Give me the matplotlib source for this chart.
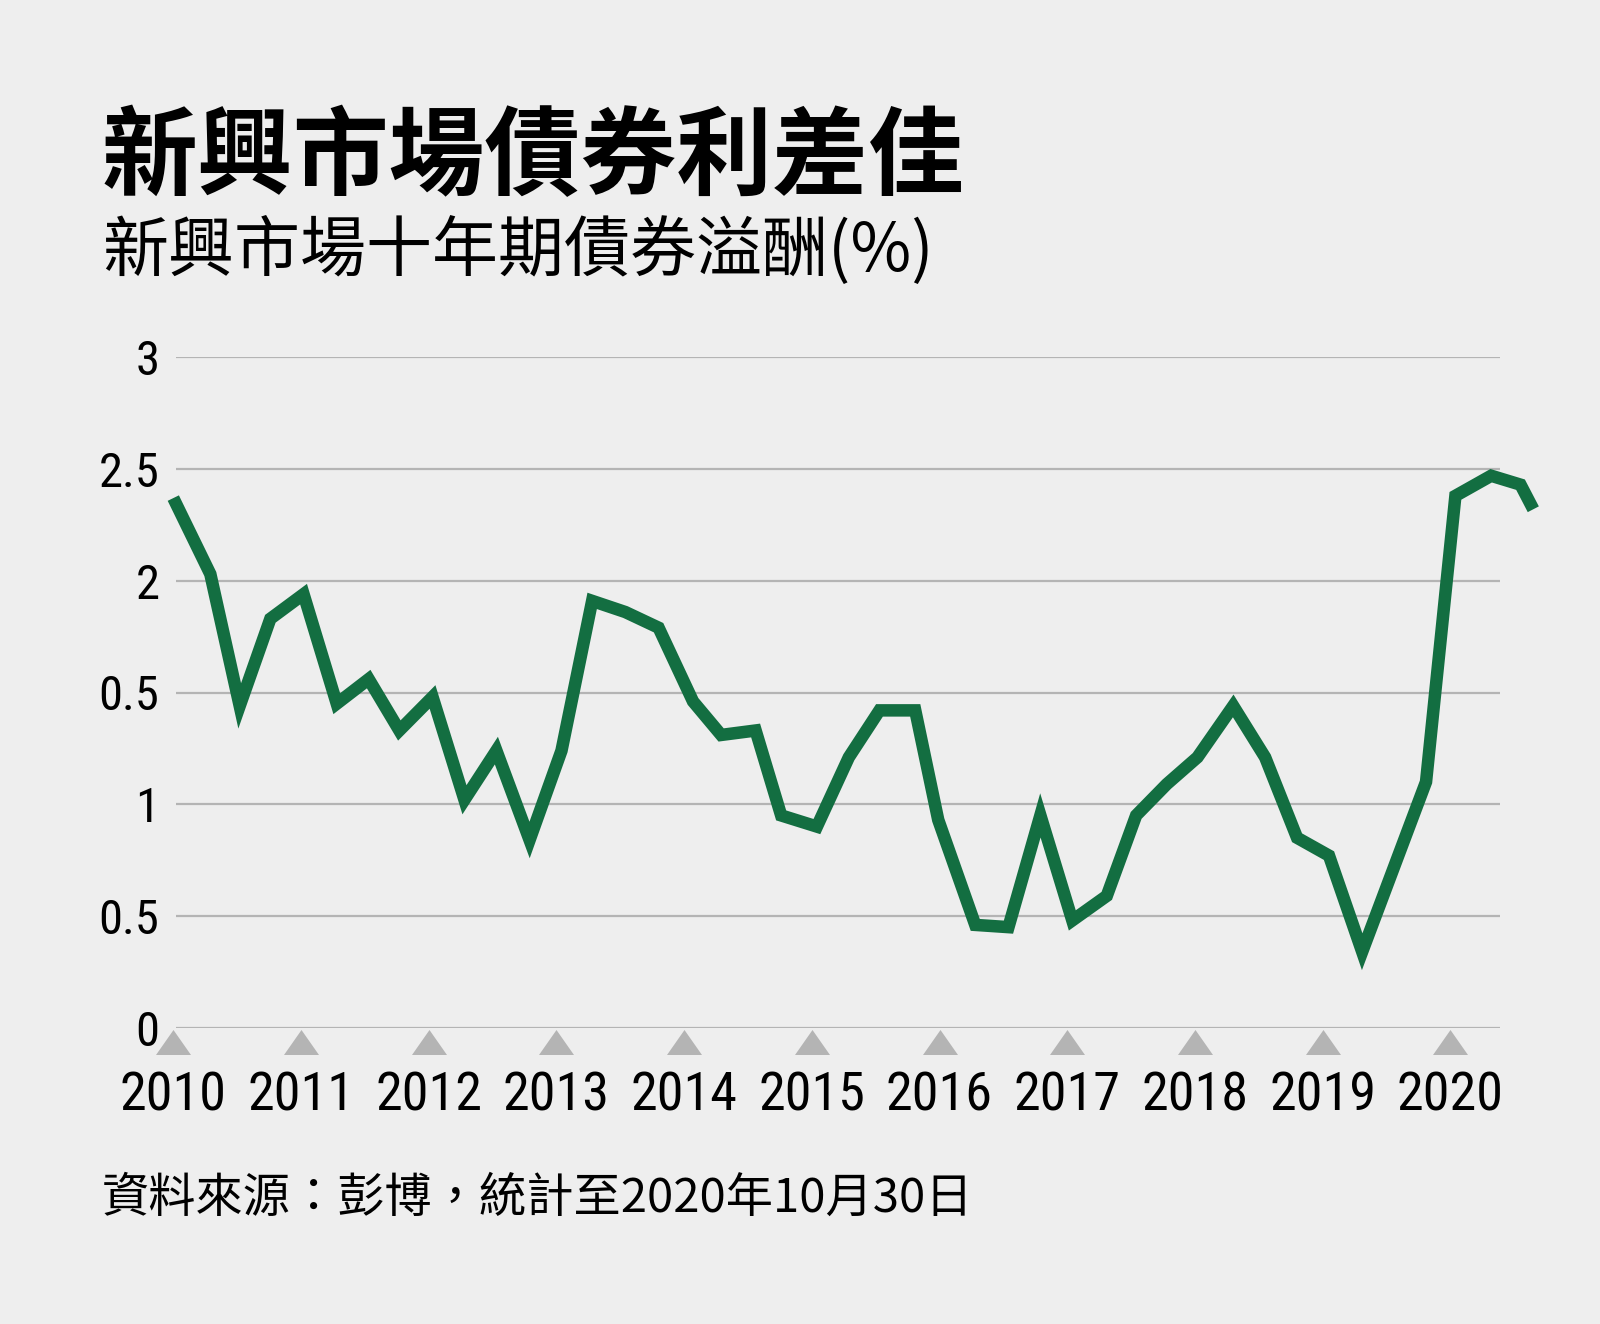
import matplotlib
matplotlib.use("Agg")
import matplotlib.pyplot as plt
import matplotlib.font_manager as fm

# ---------------- data ----------------
dates = [2010.00, 2010.29, 2010.52, 2010.76, 2011.02, 2011.28, 2011.53, 2011.77,
         2012.03, 2012.28, 2012.53, 2012.79, 2013.04, 2013.28, 2013.54, 2013.80,
         2014.07, 2014.29, 2014.56, 2014.76, 2015.04, 2015.29, 2015.53, 2015.81,
         2015.99, 2016.28, 2016.54, 2016.79, 2017.04, 2017.31, 2017.54, 2017.78,
         2018.02, 2018.30, 2018.55, 2018.80, 2019.05, 2019.31, 2019.56, 2019.81,
         2020.04, 2020.32, 2020.55, 2020.65]
spread = [2.37, 2.03, 1.44, 1.83, 1.94, 1.45, 1.56, 1.33,
          1.48, 1.02, 1.24, 0.84, 1.24, 1.91, 1.86, 1.79,
          1.46, 1.31, 1.33, 0.95, 0.90, 1.21, 1.42, 1.42,
          0.93, 0.46, 0.45, 0.95, 0.48, 0.59, 0.95, 1.09,
          1.21, 1.44, 1.21, 0.85, 0.77, 0.34, 0.72, 1.10,
          2.38, 2.47, 2.43, 2.32]
year_ticks = [2010, 2011, 2012, 2013, 2014, 2015, 2016, 2017, 2018, 2019, 2020]
year_labels = ["2010", "2011", "2012", "2013", "2014", "2015", "2016", "2017", "2018", "2019", "2020"]
y_ticks = [0, 0.5, 1, 1.5, 2, 2.5, 3]
y_labels = ["0", "0.5", "1", "0.5", "2", "2.5", "3"]

title = "新興市場債券利差佳"
subtitle = "新興市場十年期債券溢酬(%)"
footer = "資料來源：彭博，統計至2020年10月30日"

# ---------------- style ----------------
BG = "#eeeeee"
GREEN = "#136e41"
GRID = "#b4b4b4"
CJK = ["Noto Sans CJK TC", "DejaVu Sans"]


def find_condensed():
    cands = []
    for f in fm.fontManager.ttflist:
        key = (f.name + " " + f.fname).lower()
        if ("condensed" in key or "narrow" in key) and f.style == "normal":
            if "semi" in key or "extra" in key or "ultra" in key:
                continue
            w = f.weight
            try:
                w = int(w)
            except (TypeError, ValueError):
                w = 400 if str(w).lower() in ("normal", "regular", "book") else 700
            if w != 400:
                continue
            rank = 9
            for i, p in enumerate(["roboto", "noto sans", "notosans", "dejavu", "liberation", "open sans", "opensans"]):
                if p in key:
                    rank = i
                    break
            cands.append((rank, f.fname))
    if cands:
        cands.sort()
        return cands[0][1]
    return None


cond = find_condensed()
if cond:
    num_fp = dict(fontproperties=fm.FontProperties(fname=cond))
    Y_SIZE, X_SIZE, X_PAD = 35, 39, 31
else:
    num_fp = dict(family="Roboto")
    Y_SIZE, X_SIZE, X_PAD = 33, 36, 32

W, H = 1600, 1324
fig = plt.figure(figsize=(W / 100, H / 100), dpi=100, facecolor=BG)

# axes: x 2010 -> px 173.3, 127.7 px / year ; y 0 -> px 1027.7, 3 -> px 357.3
x0_px, px_per_year = 173.3, 127.7
xmin, xmax = 2010, 2020.7
y0_px, y3_px = 1027.7, 357.3
ax = fig.add_axes([x0_px / W, 1 - y0_px / H,
                   (xmax - xmin) * px_per_year / W, (y0_px - y3_px) / H])
ax.set_facecolor(BG)
ax.set_xlim(xmin, xmax)
ax.set_ylim(0, 3)
for s in ax.spines.values():
    s.set_visible(False)

grid_x0 = 2010.02
grid_x1 = 2020.39
ax.hlines(y_ticks, grid_x0, grid_x1, colors=GRID, lw=1.6, zorder=1)

ax.plot(dates, spread, color=GREEN, lw=9, solid_joinstyle="miter",
        solid_capstyle="butt", zorder=3, clip_on=False)

# year triangles just below the baseline
tri = [(0, 0.714), (-1, -0.714), (1, -0.714)]
ax.plot(year_ticks, [-0.066] * len(year_ticks), linestyle="none",
        marker=tri, markersize=25.2, color=GRID, markeredgewidth=0, clip_on=False)

ax.set_yticks(y_ticks, y_labels)
ax.tick_params(axis="y", length=0, pad=10, labelcolor="black")
for lab in ax.get_yticklabels():
    lab.update(num_fp)
    lab.set_fontsize(Y_SIZE)

ax.set_xticks(year_ticks, year_labels)
ax.tick_params(axis="x", length=0, pad=X_PAD, labelcolor="black")
for lab in ax.get_xticklabels():
    lab.update(num_fp)
    lab.set_fontsize(X_SIZE)

# texts
fig.text(102 / W, 1 - 187 / H, title, fontsize=69, fontweight="bold",
         family=CJK, ha="left", va="baseline", color="black")
fig.text(102 / W, 1 - 271 / H, subtitle, fontsize=47.5,
         family=CJK, ha="left", va="baseline", color="black")
fig.text(102 / W, 1 - 1212 / H, footer, fontsize=34,
         family=CJK, ha="left", va="baseline", color="black")

fig.savefig("out.png", dpi=100, facecolor=BG)
